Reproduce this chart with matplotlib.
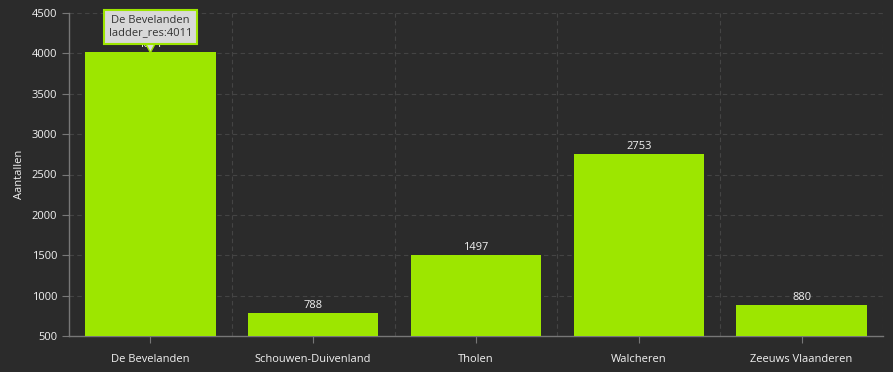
import matplotlib
matplotlib.use("Agg")
import matplotlib.pyplot as plt

regions = ["De Bevelanden", "Schouwen-Duivenland", "Tholen", "Walcheren", "Zeeuws Vlaanderen"]
counts = [4011, 788, 1497, 2753, 880]

bg = "#2b2b2b"
bar_color = "#9de600"
text_color = "#f2f2f2"

plt.rcParams["font.family"] = ["Open Sans", "DejaVu Sans"]

fig = plt.figure(figsize=(8.93, 3.72), dpi=100, facecolor=bg)
ax = fig.add_axes([69 / 893, 36 / 372, 814 / 893, 323 / 372], facecolor=bg)

x = list(range(len(regions)))
ax.bar(x, counts, width=0.8, color=bar_color, zorder=3)

# value labels (the first one sits under the tooltip)
for xi, v in zip(x, counts):
    ax.text(xi, v + 25, str(v), ha="center", va="bottom", color=text_color, fontsize=8, zorder=4)

ax.set_xlim(-0.5, len(regions) - 0.5)
ax.set_ylim(500, 4500)
ax.set_yticks(range(500, 4501, 500))
ax.set_xticks(x)
ax.set_xticklabels(regions)

# grid: horizontal at ticks, vertical between categories
for y in range(1000, 4501, 500):
    ax.axhline(y, color="#444444", linestyle=(0, (4, 3)), linewidth=0.8, zorder=1)
for b in [i + 0.5 for i in x]:
    ax.axvline(b, color="#444444", linestyle=(0, (4, 3)), linewidth=0.8, zorder=1)

for side in ["top", "right"]:
    ax.spines[side].set_visible(False)
for side in ["left", "bottom"]:
    ax.spines[side].set_color("#777777")
    ax.spines[side].set_linewidth(1)

ax.tick_params(axis="both", colors="#777777", labelcolor=text_color, labelsize=8, length=5)
ax.tick_params(axis="x", pad=8)
ax.set_ylabel("Aantallen", color=text_color, fontsize=8, labelpad=5)

# tooltip on first bar
ax.annotate("De Bevelanden\nladder_res:" + str(counts[0]), xy=(0, counts[0]), xytext=(0, 4330),
            ha="center", va="center", fontsize=8, color="#333333", zorder=6,
            bbox=dict(boxstyle="square,pad=0.45", fc="#d8d8d8", ec=bar_color, lw=1.5),
            arrowprops=dict(arrowstyle="wedge,tail_width=0.8", fc="#d8d8d8", ec=bar_color, lw=1,
                            shrinkA=0, shrinkB=0))

fig.savefig("out.png", dpi=100, facecolor=bg)
